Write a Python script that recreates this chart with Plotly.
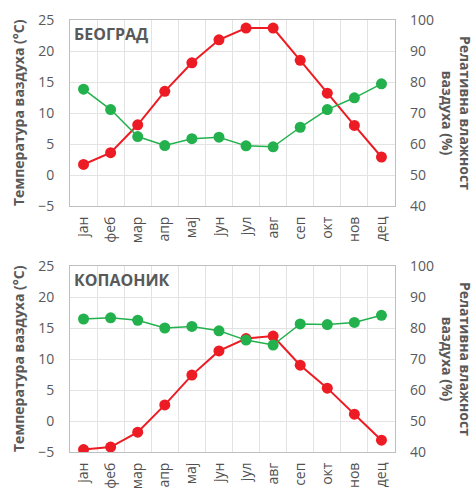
import plotly.graph_objects as go
from plotly.subplots import make_subplots

months = ["јан", "феб", "мар", "апр", "мај", "јун", "јул", "авг", "сеп", "окт", "нов", "дец"]
beograd_temp = [1.7, 3.6, 8.1, 13.5, 18.1, 21.8, 23.7, 23.7, 18.5, 13.2, 8.0, 2.9]
beograd_hum = [77.7, 71.1, 62.4, 59.5, 61.7, 62.2, 59.4, 59.1, 65.4, 71.1, 74.9, 79.4]
kopaonik_temp = [-4.6, -4.2, -1.8, 2.6, 7.4, 11.3, 13.3, 13.7, 9.0, 5.3, 1.1, -3.1]
kopaonik_hum = [82.9, 83.3, 82.5, 80.0, 80.5, 79.1, 76.1, 74.5, 81.3, 81.1, 81.8, 84.1]
stations = ["БЕОГРАД", "КОПАОНИК"]
temp_ticks = [-5, 0, 5, 10, 15, 20, 25]
hum_ticks = [40, 50, 60, 70, 80, 90, 100]

RED = "#ed1c24"
GREEN = "#22b14c"
GRID = "#e3e3e3"
FRAME = "#bfbfbf"
TXT = "#595959"
FONT = "Open Sans"

H = 489
W = 474
L, R = 70, 79
plots_px = [(20, 206), (266, 452)]

fig = make_subplots(rows=2, cols=1,
                    specs=[[{"secondary_y": True}], [{"secondary_y": True}]])

x = list(range(len(months)))
data = [(beograd_temp, beograd_hum), (kopaonik_temp, kopaonik_hum)]
for i, (t, h) in enumerate(data):
    row = i + 1
    fig.add_trace(go.Scatter(x=x, y=t, mode="lines+markers",
                             line=dict(color=RED, width=2),
                             marker=dict(color=RED, size=11),
                             showlegend=False), row=row, col=1, secondary_y=False)
    fig.add_trace(go.Scatter(x=x, y=h, mode="lines+markers",
                             line=dict(color=GREEN, width=1.5),
                             marker=dict(color=GREEN, size=11),
                             showlegend=False), row=row, col=1, secondary_y=True)

axis_font = dict(family=FONT, size=14, color=TXT)
month_font = dict(family=FONT, size=14, color="#505050")
for i, (top, bot) in enumerate(plots_px):
    dom = [1 - bot / H, 1 - top / H]
    xa = "xaxis" if i == 0 else "xaxis2"
    ya = "yaxis" if i == 0 else "yaxis3"
    ya2 = "yaxis2" if i == 0 else "yaxis4"
    fig.layout[xa].update(
        domain=[0, 1], range=[-0.5, 11.5], tickmode="array", tickvals=x,
        ticktext=months, tickangle=-90, showgrid=False, zeroline=False,
        showline=True, mirror=True, linecolor=FRAME, linewidth=1,
        ticks="", tickfont=month_font, ticklabelstandoff=4,
        minor=dict(tickmode="linear", tick0=0.5, dtick=1, showgrid=True,
                   gridcolor=GRID, gridwidth=1, ticks=""),
    )
    fig.layout[ya].update(
        domain=dom, range=[-5, 25], tickmode="array", tickvals=temp_ticks,
        showgrid=True, gridcolor=GRID, zeroline=False,
        showline=True, mirror=True, linecolor=FRAME, linewidth=1,
        ticks="", tickfont=axis_font, ticklabelstandoff=12,
    )
    fig.layout[ya2].update(
        domain=dom, range=[40, 100], tickmode="array", tickvals=hum_ticks,
        showgrid=False, zeroline=False, showline=False,
        ticks="", tickfont=axis_font, ticklabelstandoff=14,
    )
    yref_dom = ("y" if i == 0 else "y3") + " domain"
    fig.add_annotation(text="<b>" + stations[i] + "</b>", xref="paper", yref=yref_dom,
                       x=0.005, y=0.925, xanchor="left", yanchor="middle",
                       showarrow=False, font=dict(family=FONT, size=16, color=TXT))
    fig.add_annotation(text="<b>Температура ваздуха (°C)</b>", xref="paper", yref=yref_dom,
                       x=(18 - L) / (W - L - R), y=0.5, xanchor="center", yanchor="middle",
                       textangle=-90, showarrow=False,
                       font=dict(family=FONT, size=14, color=TXT))
    fig.add_annotation(text="<b>Релативна влажност<br>ваздуха (%)</b>", xref="paper", yref=yref_dom,
                       x=(457 - L) / (W - L - R), y=0.5, xanchor="center", yanchor="middle",
                       textangle=90, showarrow=False,
                       font=dict(family=FONT, size=14, color=TXT))

fig.update_layout(
    width=W, height=H,
    margin=dict(l=L, r=R, t=0, b=0, autoexpand=False),
    paper_bgcolor="white", plot_bgcolor="white",
    font=dict(family=FONT, color=TXT),
)

fig.write_html("out.html")
